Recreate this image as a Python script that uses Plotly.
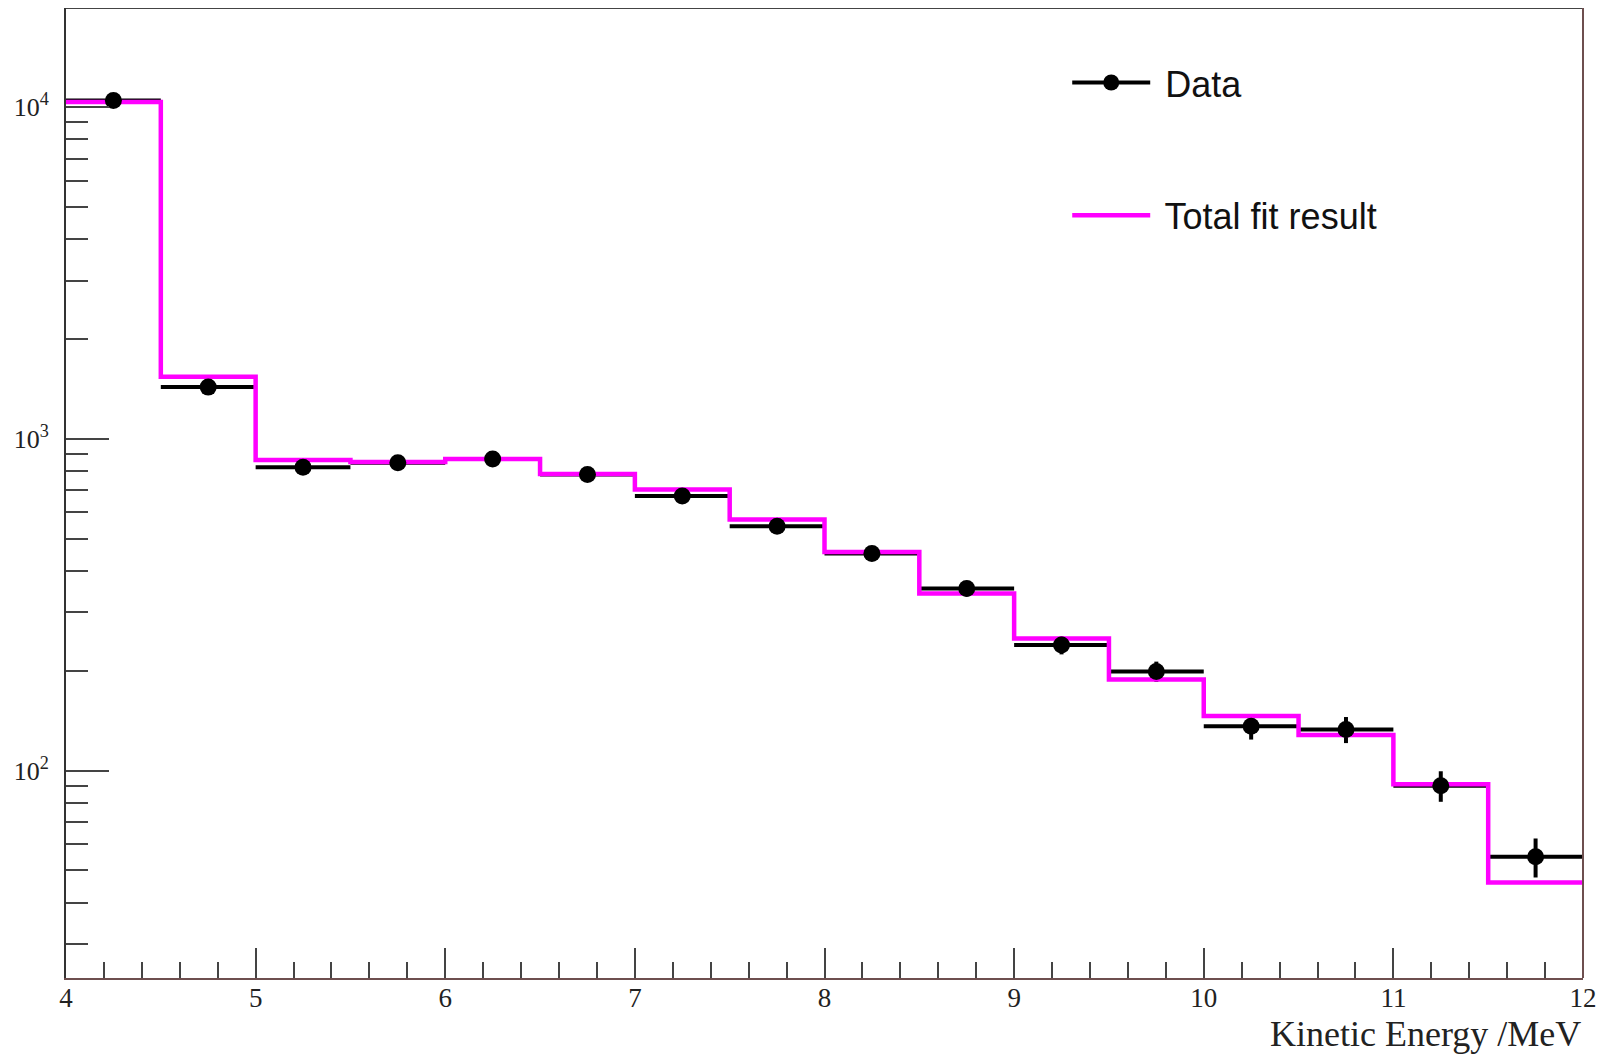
import plotly.graph_objects as go

# Bin edges (MeV) and bin centres
bin_edges = [4.0, 4.5, 5.0, 5.5, 6.0, 6.5, 7.0, 7.5, 8.0, 8.5, 9.0, 9.5, 10.0, 10.5, 11.0, 11.5, 12.0]
bin_centers = [4.25, 4.75, 5.25, 5.75, 6.25, 6.75, 7.25, 7.75, 8.25, 8.75, 9.25, 9.75, 10.25, 10.75, 11.25, 11.75]
bin_half_width = [0.25] * 16

# Data counts and errors
data_counts = [10480, 1432, 821, 847, 870, 781, 672, 545, 451, 354, 239, 199, 136, 133, 90, 55]
data_errors = [102, 38, 29, 29, 29, 28, 26, 23, 21, 19, 15, 14, 12, 12, 9.5, 7.4]

# Total fit result per bin
fit_counts = [10360, 1538, 863, 851, 870, 784, 704, 571, 456, 342, 250, 188, 146, 128, 91, 46]

y_major = [100, 1000, 10000]
y_major_text = ["10<sup>2</sup>", "10<sup>3</sup>", "10<sup>4</sup>"]
y_minor = [m * 10 ** e for e in (1, 2, 3, 4) for m in range(2, 10)]
x_ticks = [4, 5, 6, 7, 8, 9, 10, 11, 12]

BLACK = "#000000"
MAGENTA = "#ff00ff"
SERIF = "Liberation Serif"
SANS = "Liberation Sans"

fig = go.Figure()

# legend-only entry for data (line + marker)
fig.add_trace(go.Scatter(
    x=[None], y=[None], mode="lines+markers", name=" Data",
    line=dict(color=BLACK, width=4), marker=dict(color=BLACK, size=17),
    legendgroup="a", showlegend=True,
))

# data error bars
fig.add_trace(go.Scatter(
    x=bin_centers, y=data_counts, mode="markers",
    marker=dict(color=BLACK, size=1),
    error_x=dict(type="data", array=bin_half_width, color=BLACK, thickness=4, width=0),
    error_y=dict(type="data", array=data_errors, color=BLACK, thickness=4, width=0),
    showlegend=False, hoverinfo="skip",
))

# fit step histogram
fit_step_y = fit_counts + [fit_counts[-1]]
fig.add_trace(go.Scatter(
    x=bin_edges, y=fit_step_y, mode="lines", line_shape="hv",
    line=dict(color=MAGENTA, width=4.5), name=" Total fit result",
    legendgroup="b", showlegend=True,
))

# data markers on top
fig.add_trace(go.Scatter(
    x=bin_centers, y=data_counts, mode="markers",
    marker=dict(color=BLACK, size=17), showlegend=False,
))

# page body has an 8px margin: figure sized to fit the 1610x1056 window
W, H = 1602, 1048
L, R, T, B = 58, 27, 0, 78

fig.update_layout(
    width=W, height=H,
    margin=dict(l=L, r=R, t=T, b=B, autoexpand=False),
    paper_bgcolor="white", plot_bgcolor="white",
    showlegend=True,
    legend=dict(
        x=0.660, y=0.954, xanchor="left", yanchor="top",
        font=dict(family=SANS, size=36, color="#111111"),
        traceorder="grouped", tracegroupgap=83,
        bgcolor="rgba(0,0,0,0)", itemwidth=78,
    ),
    xaxis=dict(
        range=[4, 12], tickvals=x_ticks, ticktext=[str(v) for v in x_ticks],
        ticks="inside", ticklen=30, tickwidth=1.5, tickcolor="#444444",
        minor=dict(dtick=0.2, ticks="inside", ticklen=16, tickwidth=1.5, tickcolor="#444444"),
        showline=True, linecolor="#6e4f4f", linewidth=2, mirror=False,
        showgrid=False, zeroline=False, automargin=False,
        tickfont=dict(family=SERIF, size=27, color="#222222"),
        ticklabelstandoff=-5,
    ),
    yaxis=dict(
        type="log", range=[1.3746, 4.2989],
        tickvals=y_major, ticktext=y_major_text,
        ticks="inside", ticklen=43, tickwidth=1.5, tickcolor="#444444",
        minor=dict(tickvals=y_minor, ticks="inside", ticklen=22, tickwidth=1.5, tickcolor="#444444"),
        showline=True, linecolor="#333333", linewidth=2, mirror=False,
        showgrid=False, zeroline=False, automargin=False,
        tickfont=dict(family=SERIF, size=26, color="#222222"),
        ticklabelstandoff=10,
    ),
    shapes=[
        dict(type="line", xref="paper", yref="paper", x0=0, x1=1, y0=1, y1=1,
             line=dict(color="#444444", width=2)),
        dict(type="line", xref="paper", yref="paper", x0=1, x1=1, y0=0, y1=1,
             line=dict(color="#6e4f4f", width=2)),
    ],
    annotations=[
        dict(text="Kinetic Energy /MeV", xref="paper", yref="paper",
             x=1, y=-0.0577, xanchor="right", yanchor="middle", showarrow=False,
             font=dict(family=SERIF, size=36, color="#222222")),
    ],
)

fig.write_html("out.html")
